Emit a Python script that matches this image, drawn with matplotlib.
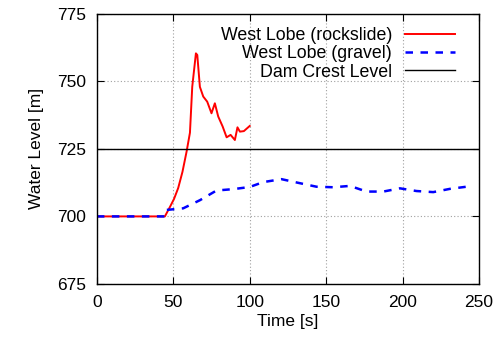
import numpy as np
import matplotlib
matplotlib.use("Agg")
from matplotlib import pyplot as plt

plt.rcParams['font.family'] = ['Liberation Sans', 'DejaVu Sans']

# rockslide case
t_rock = [0, 44.5, 47.8, 50.5, 53.2, 56.0, 58.7, 60.9, 62.4, 64.8, 65.7, 67.4, 69.6, 72.2,
          75.0, 77.2, 79.4, 82.3, 84.9, 87.5, 90.3, 92.0, 93.6, 96.2, 100.0]
h_rock = [700, 700, 703.5, 706.5, 710.5, 716.5, 724.0, 731.0, 748.0, 760.4, 759.8, 748.0, 744.4, 742.5,
          738.2, 741.9, 737.0, 733.3, 729.3, 730.2, 728.3, 733.0, 731.4, 731.6, 733.5]

# gravel case
t_grav = [0, 44.5, 45.6, 56.5, 67.4, 78.3, 89.2, 100, 108.8, 120.8, 132.9, 143.7,
          154.7, 165.6, 176.5, 187.4, 198.3, 209.2, 220.1, 231.0, 241.9, 245.0]
h_grav = [700, 700, 702.4, 703.0, 706.0, 709.6, 710.1, 710.9, 712.7, 713.8, 712.3, 711.0,
          710.8, 711.3, 709.2, 709.2, 710.4, 709.4, 709.0, 710.2, 711.0, 710.7]

dam_crest = 725

fig = plt.figure(figsize=(5.02, 3.40), dpi=100)
ax = fig.add_axes([0.193, 0.165, 0.761, 0.794])

ax.plot(t_rock, h_rock, color='#ff0000', lw=1.4, label='West Lobe (rockslide)')
ax.plot(t_grav, h_grav, color='#0000ff', lw=1.8, ls=(0, (3, 3)), label='West Lobe (gravel)')
ax.axhline(dam_crest, color='black', lw=1.0, label='Dam Crest Level')

ax.set_xlim(0, 250)
ax.set_ylim(675, 775)
ax.set_xticks(np.arange(0, 251, 50))
ax.set_yticks(np.arange(675, 776, 25))
ax.grid(True, color='#a0a0a0', ls=(0, (1, 2)), lw=0.8)
ax.tick_params(direction='in', top=True, right=True, length=5, labelsize=12.5, pad=8)
for s in ax.spines.values():
    s.set_linewidth(1.0)

ax.set_xlabel('Time [s]', fontsize=12.5, labelpad=3)
ax.set_ylabel('Water Level [m]', fontsize=12.5, labelpad=9)

leg = ax.legend(loc='upper right', bbox_to_anchor=(0.975, 1.005), frameon=False,
                markerfirst=False, fontsize=12.8,
                handlelength=2.8, handletextpad=0.75, labelspacing=0.08,
                borderaxespad=0.5, borderpad=0.3, alignment='right')
for txt in leg.get_texts():
    txt.set_ha('right')

fig.savefig('out.png', dpi=100)
